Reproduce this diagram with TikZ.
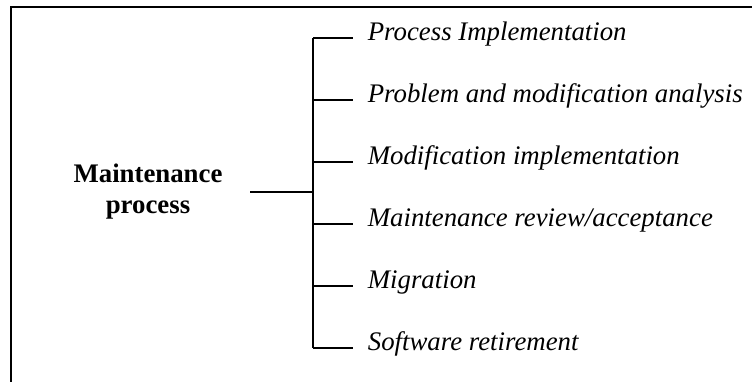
\documentclass[tikz,border=0pt]{standalone}
\usepackage{fontspec}
\setmainfont{Liberation Serif}

\tikzset{
  task/.style={anchor=west, inner xsep=14pt, inner ysep=0pt, text height=0.6em, text depth=0pt, font=\fontsize{26.8}{31}\selectfont\itshape},
  root/.style={align=center, font=\fontsize{26.8}{31}\selectfont\bfseries}
}

\begin{document}
\begin{tikzpicture}[x=1pt,y=1pt,line width=1.7pt]
        \useasboundingbox (0,0) rectangle (752,382);
        \draw (11,0) -- (11,375) -- (752,375);
        \node[root] (proc) at (148,190) {Maintenance\\process};
        \coordinate (stem) at (250,190);
        \coordinate (top) at (313,344);
        \coordinate (bot) at (313,34);
        \draw (stem) -- (stem -| top);
        \draw (top) -- (bot);
        \foreach \y/\name/\txt in {344/impl/Process Implementation, 282/anal/Problem and modification analysis, 220/modi/Modification implementation, 158/revw/Maintenance review\slash acceptance, 96/migr/Migration, 34/retr/Software retirement}
        {
          \node[task] (\name) at (353,\y) {\txt};
          \draw (top |- \name.west) -- (\name.west);
        }
    \end{tikzpicture}
\end{document}
